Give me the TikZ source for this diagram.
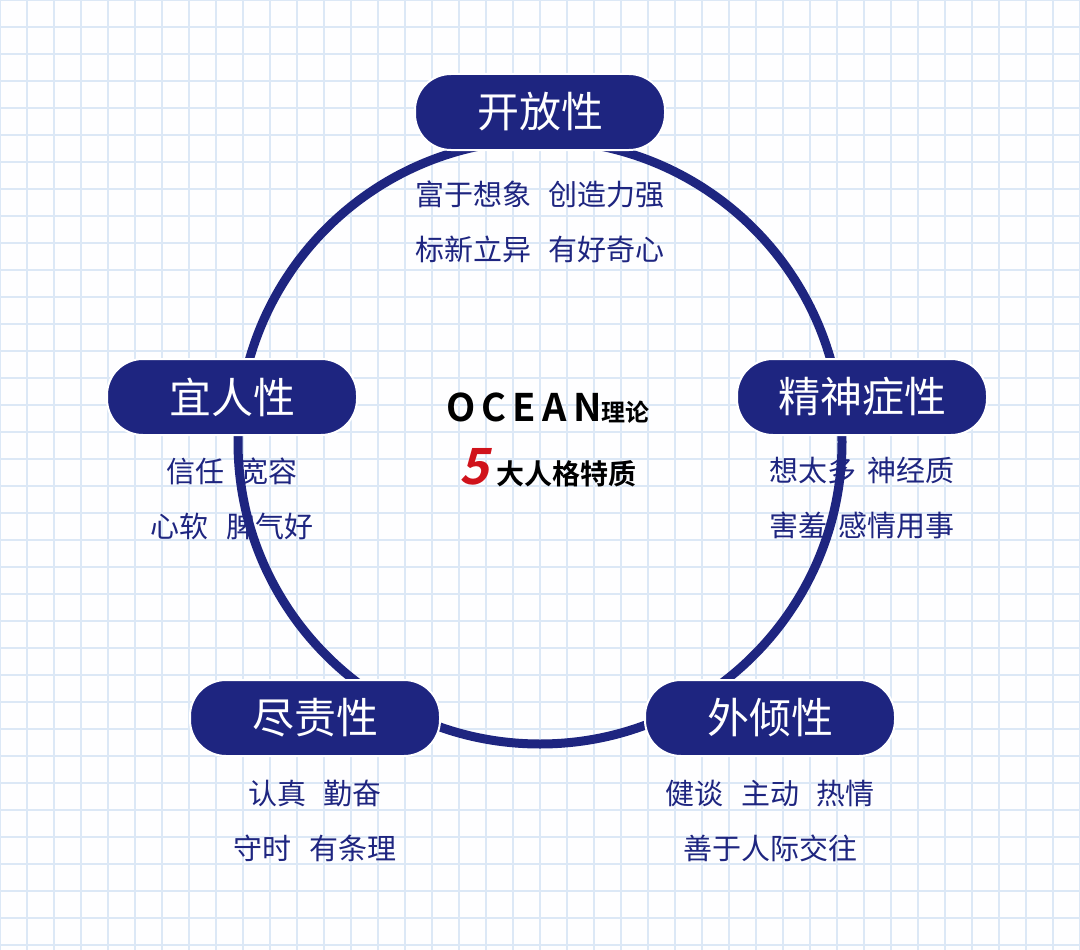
\documentclass[tikz,border=0pt]{standalone}
\usetikzlibrary{positioning}
\usepackage{fontspec}
\setmainfont{Noto Sans CJK SC}
\newfontfamily\cjkbold{Noto Sans CJK SC}[BoldFont={* Bold}]
\definecolor{navy}{HTML}{1E2580}
\definecolor{gridblue}{HTML}{DCE8F6}
\definecolor{ocred}{HTML}{D0121B}
\tikzset{
  traitbox/.style={draw=white, line width=2pt, fill=navy, rounded corners=36pt,
    minimum width=250pt, minimum height=76pt, text=white, font=\fontsize{42}{46}\selectfont},
  traittext/.style={text=navy, font=\fontsize{29}{33}\selectfont, align=center}
}
\begin{document}
\begin{tikzpicture}[x=1pt,y=-1pt]
  \useasboundingbox (0,0) rectangle (1080,950);
  \fill[white!97!gridblue] (0,0) rectangle (1080,950);
  % grid
  \foreach \i in {0,...,40} {
    \draw[gridblue, line width=1.2pt] (\i*27,0) -- (\i*27,950);
  }
  \foreach \j in {0,...,36} {
    \draw[gridblue, line width=1.2pt] (0,\j*27) -- (1080,\j*27);
  }
  % ring
  \draw[navy, line width=9pt] (540,442) circle [radius=302];
  % trait boxes
  \node[traitbox] (open) at (540,112) {开放性};
  \node[traitbox] (neuro) at (862,397) {精神症性};
  \node[traitbox] (agree) at (232,397) {宜人性};
  \node[traitbox] (consc) at (315,718) {尽责性};
  \node[traitbox] (extra) at (770,718) {外倾性};
  % descriptions
  \node[traittext, below=26pt of open] (opentxt) {富于想象\hspace{0.6em}创造力强\\[22pt]标新立异\hspace{0.6em}有好奇心};
  \node[traittext, below=18pt of neuro] (neurotxt) {想太多\hspace{0.4em}神经质\\[22pt]害羞\hspace{0.4em}感情用事};
  \node[traittext, below=18pt of agree] (agreetxt) {信任\hspace{0.5em}宽容\\[22pt]心软\hspace{0.6em}脾气好};
  \node[traittext, below=20pt of consc] (consctxt) {认真\hspace{0.6em}勤奋\\[22pt]守时\hspace{0.6em}有条理};
  \node[traittext, below=20pt of extra] (extratxt) {健谈\hspace{0.6em}主动\hspace{0.6em}热情\\[22pt]善于人际交往};
  % centre title
  \node[font=\cjkbold\bfseries] (ocean) at (548,408) {{\fontsize{38}{40}\selectfont O\,C\,E\,A\,N}{\fontsize{24}{26}\selectfont 理论}};
  \node[font=\cjkbold\bfseries] (five) at (548,468) {\tikz[baseline]\node[inner sep=0pt, anchor=base, xslant=0.22, text=ocred, font=\cjkbold\bfseries\fontsize{50}{52}\selectfont]{5};{\fontsize{28}{30}\selectfont 大人格特质}};
\end{tikzpicture}
\end{document}
